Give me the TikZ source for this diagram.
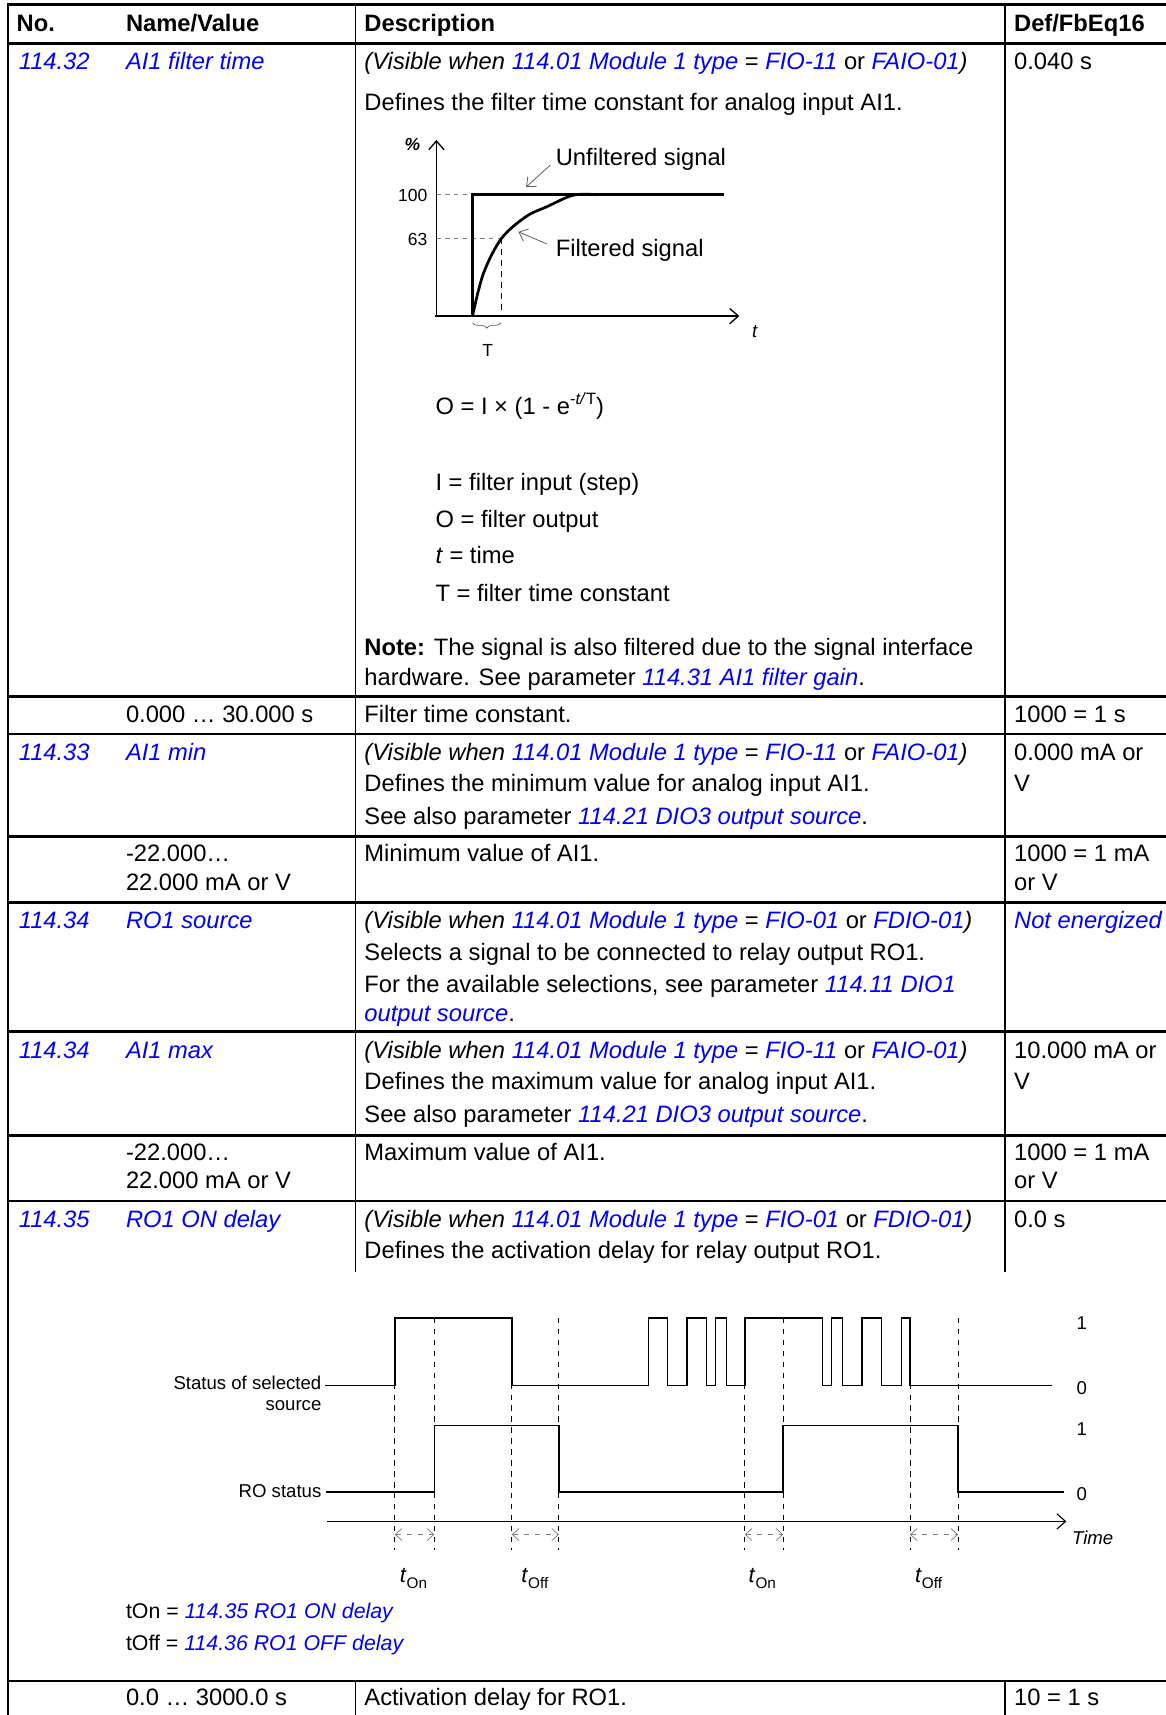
\documentclass[tikz,border=0pt]{standalone}
\usepackage{fontspec}
\setmainfont{Liberation Sans}
\usetikzlibrary{arrows.meta,decorations.pathreplacing}
\definecolor{linkblue}{RGB}{0,0,255}
\newcommand{\lnk}[1]{\textcolor{linkblue}{\textit{#1}}}
\newcommand{\vis}[2]{\textit{(Visible when }\lnk{114.01 Module 1 type} = \lnk{#1} or \lnk{#2}\textit{)}}
\tikzset{
  txt/.style={anchor=base west, inner sep=0pt, font=\fontsize{21.7}{26}\selectfont},
  hdr/.style={txt, font=\fontsize{21.7}{26}\selectfont\bfseries},
  small/.style={inner sep=0pt, font=\fontsize{16}{19}\selectfont},
  tlbl/.style={inner sep=0pt, font=\fontsize{17}{20}\selectfont},
  rule/.style={line width=2.4pt},
  col/.style={line width=1.6pt},
  sig/.style={line width=1.2pt, line join=miter},
  guide/.style={line width=0.8pt, dash pattern=on 5pt off 5pt},
  pointer/.style={line width=0.7pt, gray!70!black, -{Straight Barb[length=7pt,width=12pt]}},
  delay/.style={line width=0.7pt, gray, dash pattern=on 5pt off 5pt, {Straight Barb[length=6pt,width=11pt]}-{Straight Barb[length=6pt,width=11pt]}},
  axis/.style={line width=1.2pt, -{Straight Barb[length=8pt,width=14pt]}}
}
\begin{document}
\begin{tikzpicture}[x=1pt,y=-1pt]
\useasboundingbox (0,0) rectangle (1066,1568);

% Table rules
\draw[rule] (6.2,4) -- (1066,4);
\draw[rule] (6.2,40) -- (1066,40);
\draw[rule] (6.2,637) -- (1066,637);
\draw[rule] (6.2,671) -- (1066,671);
\draw[rule] (6.2,765) -- (1066,765);
\draw[rule] (6.2,825) -- (1066,825);
\draw[rule] (6.2,943) -- (1066,943);
\draw[rule] (6.2,1038) -- (1066,1038);
\draw[rule] (6.2,1098) -- (1066,1098);
\draw[rule] (6.2,1537) -- (1066,1537);
\draw[col] (7,4) -- (7,1568);
\draw[col] (325,4) -- (325,1163);
\draw[col] (919,4) -- (919,1163);
\draw[col] (325,1537) -- (325,1568);
\draw[col] (919,1537) -- (919,1568);

% Header
\node[hdr] (hno) at (15,29) {No.};
\node[hdr] (hname) at (115,29) {Name/Value};
\node[hdr] (hdesc) at (333,29) {Description};
\node[hdr] (hdef) at (927,29) {Def/FbEq16};

% 114.32
\node[txt] (ftno) at (17,64) {\lnk{114.32}};
\node[txt] (ftname) at (115,64) {\lnk{AI1 filter time}};
\node[txt] (ftvis) at (333,64) {\vis{FIO-11}{FAIO-01}};
\node[txt] (ftdef) at (927,64) {0.040 s};
\node[txt] (ftdesc) at (333,101) {Defines the filter time constant for analog input AI1.};

% Filter graph
\draw[gray, line width=0.8pt, dash pattern=on 4pt off 4pt] (399,178) -- (432,178);
\draw[gray, line width=0.8pt, dash pattern=on 4pt off 4pt] (399,218) -- (458,218);
\draw[line width=0.8pt, dash pattern=on 5pt off 5pt] (458,218) -- (458,289);
\draw[axis] (399,290) -- (399,128);
\draw[axis] (398,289) -- (676,289);
\draw[line width=3pt, line join=miter] (432,289) -- (432,178) -- (662,178);
\draw[line width=2.5pt] plot[smooth, tension=0.55] coordinates {(432,289) (442,250) (458.5,218) (481,198) (500,189) (524,178.5) (545,178)};
\draw[decorate, decoration={brace, amplitude=5pt, mirror}, line width=0.6pt, gray!70!black] (432,295) -- (458,295);
\node[small, font=\fontsize{16}{19}\selectfont\bfseries\itshape] (pct) at (377,132) {\%};
\node[small, anchor=east] (hundred) at (391,179) {100};
\node[small, anchor=east] (sixtythree) at (391,219) {63};
\node[small, font=\fontsize{17}{19}\selectfont\itshape] (taxis) at (690,303) {t};
\node[small] (tconst) at (446,320) {T};
\node[txt, anchor=west] (unf) at (508,146) {Unfiltered signal};
\node[txt, anchor=west] (filt) at (508,229) {Filtered signal};
\coordinate (unftip) at (481,171);
\coordinate (filttip) at (474,212);
\draw[pointer] ([shift={(-5,5)}]unf.west) -- (unftip);
\draw[pointer] ([shift={(-8,-6)}]filt.west) -- (filttip);

\node[txt] (formula) at (398,379) {O = I × (1 - e\raisebox{0.42em}{\fontsize{15}{15}\selectfont -\textit{t/}T})};
\node[txt] (defi) at (398,448) {I = filter input (step)};
\node[txt] (defo) at (398,482) {O = filter output};
\node[txt] (deft) at (398,515) {\textit{t} = time};
\node[txt] (defT) at (398,550) {T = filter time constant};
\node[txt] (note) at (333,599) {\textbf{Note:} The signal is also filtered due to the signal interface};
\node[txt] (notetwo) at (333,627) {hardware. See parameter \lnk{114.31 AI1 filter gain}.};

\node[txt] (ftrange) at (115,661) {0.000 … 30.000 s};
\node[txt] (ftrdesc) at (333,661) {Filter time constant.};
\node[txt] (ftrdef) at (927,661) {1000 = 1 s};

% 114.33
\node[txt] (minno) at (17,695) {\lnk{114.33}};
\node[txt] (minname) at (115,695) {\lnk{AI1 min}};
\node[txt] (minvis) at (333,695) {\vis{FIO-11}{FAIO-01}};
\node[txt] (mindef) at (927,695) {0.000 mA or};
\node[txt] (mindesc) at (333,724) {Defines the minimum value for analog input AI1.};
\node[txt] (mindeftwo) at (927,724) {V};
\node[txt] (minsee) at (333,754) {See also parameter \lnk{114.21 DIO3 output source}.};
\node[txt] (minrange) at (115,788) {-22.000…};
\node[txt] (minrangetwo) at (115,814) {22.000 mA or V};
\node[txt] (minrdesc) at (333,788) {Minimum value of AI1.};
\node[txt] (minrdef) at (927,788) {1000 = 1 mA};
\node[txt] (minrdeftwo) at (927,814) {or V};

% 114.34 RO1 source
\node[txt] (srcno) at (17,849) {\lnk{114.34}};
\node[txt] (srcname) at (115,849) {\lnk{RO1 source}};
\node[txt] (srcvis) at (333,849) {\vis{FIO-01}{FDIO-01}};
\node[txt] (srcdef) at (927,849) {\lnk{Not energized}};
\node[txt] (srcdesc) at (333,878) {Selects a signal to be connected to relay output RO1.};
\node[txt] (srcsee) at (333,907) {For the available selections, see parameter \lnk{114.11 DIO1}};
\node[txt] (srcseetwo) at (333,934) {\lnk{output source}.};

% 114.34 AI1 max
\node[txt] (maxno) at (17,968) {\lnk{114.34}};
\node[txt] (maxname) at (115,968) {\lnk{AI1 max}};
\node[txt] (maxvis) at (333,968) {\vis{FIO-11}{FAIO-01}};
\node[txt] (maxdef) at (927,968) {10.000 mA or};
\node[txt] (maxdesc) at (333,996) {Defines the maximum value for analog input AI1.};
\node[txt] (maxdeftwo) at (927,996) {V};
\node[txt] (maxsee) at (333,1026) {See also parameter \lnk{114.21 DIO3 output source}.};
\node[txt] (maxrange) at (115,1061) {-22.000…};
\node[txt] (maxrangetwo) at (115,1087) {22.000 mA or V};
\node[txt] (maxrdesc) at (333,1061) {Maximum value of AI1.};
\node[txt] (maxrdef) at (927,1061) {1000 = 1 mA};
\node[txt] (maxrdeftwo) at (927,1087) {or V};

% 114.35
\node[txt] (onno) at (17,1122) {\lnk{114.35}};
\node[txt] (onname) at (115,1122) {\lnk{RO1 ON delay}};
\node[txt] (onvis) at (333,1122) {\vis{FIO-01}{FDIO-01}};
\node[txt] (ondef) at (927,1122) {0.0 s};
\node[txt] (ondesc) at (333,1151) {Defines the activation delay for relay output RO1.};

% Timing diagram
\draw[guide] (361,1205) -- (361,1417);
\draw[guide] (397,1205) -- (397,1417);
\draw[guide] (468,1205) -- (468,1417);
\draw[guide] (511,1205) -- (511,1417);
\draw[guide] (681,1205) -- (681,1417);
\draw[guide] (716,1205) -- (716,1417);
\draw[guide] (832,1205) -- (832,1417);
\draw[guide] (876,1205) -- (876,1417);
\node[tlbl, anchor=east] (srclbl) at (294,1264) {Status of selected};
\node[tlbl, anchor=east] (srclbltwo) at (294,1285) {source};
\node[tlbl, anchor=east] (rolbl) at (294,1363) {RO status};
\draw[sig] (297,1267) -- (361,1267) -- (361,1205) -- (468,1205) -- (468,1267) -- (593,1267) -- (593,1205) -- (610,1205) -- (610,1267) -- (628,1267) -- (628,1205) -- (646,1205) -- (646,1267) -- (654,1267) -- (654,1205) -- (664,1205) -- (664,1267) -- (681,1267) -- (681,1205) -- (752,1205) -- (752,1267) -- (760,1267) -- (760,1205) -- (770,1205) -- (770,1267) -- (788,1267) -- (788,1205) -- (806,1205) -- (806,1267) -- (824,1267) -- (824,1205) -- (832,1205) -- (832,1267) -- (962,1267);
\draw[sig] (298,1364) -- (397,1364) -- (397,1303) -- (511,1303) -- (511,1364) -- (716,1364) -- (716,1303) -- (876,1303) -- (876,1364) -- (973,1364);
\draw[axis, line width=1pt] (299,1391) -- (975,1391);
\node[tlbl, anchor=west, font=\fontsize{17}{20}\selectfont\itshape] (timelbl) at (980,1406) {Time};
\node[tlbl] (srchi) at (989,1210) {1};
\node[tlbl] (srclo) at (989,1269) {0};
\node[tlbl] (rohi) at (989,1307) {1};
\node[tlbl] (rolo) at (989,1366) {0};
\draw[delay] (361,1403) -- (397,1403);
\draw[delay] (468,1403) -- (511,1403);
\draw[delay] (681,1403) -- (716,1403);
\draw[delay] (832,1403) -- (876,1403);
\node[tlbl, font=\fontsize{20}{22}\selectfont] (tonone) at (378,1443) {\textit{t}\raisebox{-0.3em}{\fontsize{14}{14}\selectfont On}};
\node[tlbl, font=\fontsize{20}{22}\selectfont] (toffone) at (489,1443) {\textit{t}\raisebox{-0.3em}{\fontsize{14}{14}\selectfont Off}};
\node[tlbl, font=\fontsize{20}{22}\selectfont] (tontwo) at (697,1443) {\textit{t}\raisebox{-0.3em}{\fontsize{14}{14}\selectfont On}};
\node[tlbl, font=\fontsize{20}{22}\selectfont] (tofftwo) at (849,1443) {\textit{t}\raisebox{-0.3em}{\fontsize{14}{14}\selectfont Off}};
\node[txt, font=\fontsize{19.5}{23}\selectfont] (tondef) at (115,1480) {tOn = \lnk{114.35 RO1 ON delay}};
\node[txt, font=\fontsize{19.5}{23}\selectfont] (toffdef) at (115,1509) {tOff = \lnk{114.36 RO1 OFF delay}};

\node[txt] (onrange) at (115,1559) {0.0 … 3000.0 s};
\node[txt] (onrdesc) at (333,1559) {Activation delay for RO1.};
\node[txt] (onrdef) at (927,1559) {10 = 1 s};
\end{tikzpicture}
\end{document}
